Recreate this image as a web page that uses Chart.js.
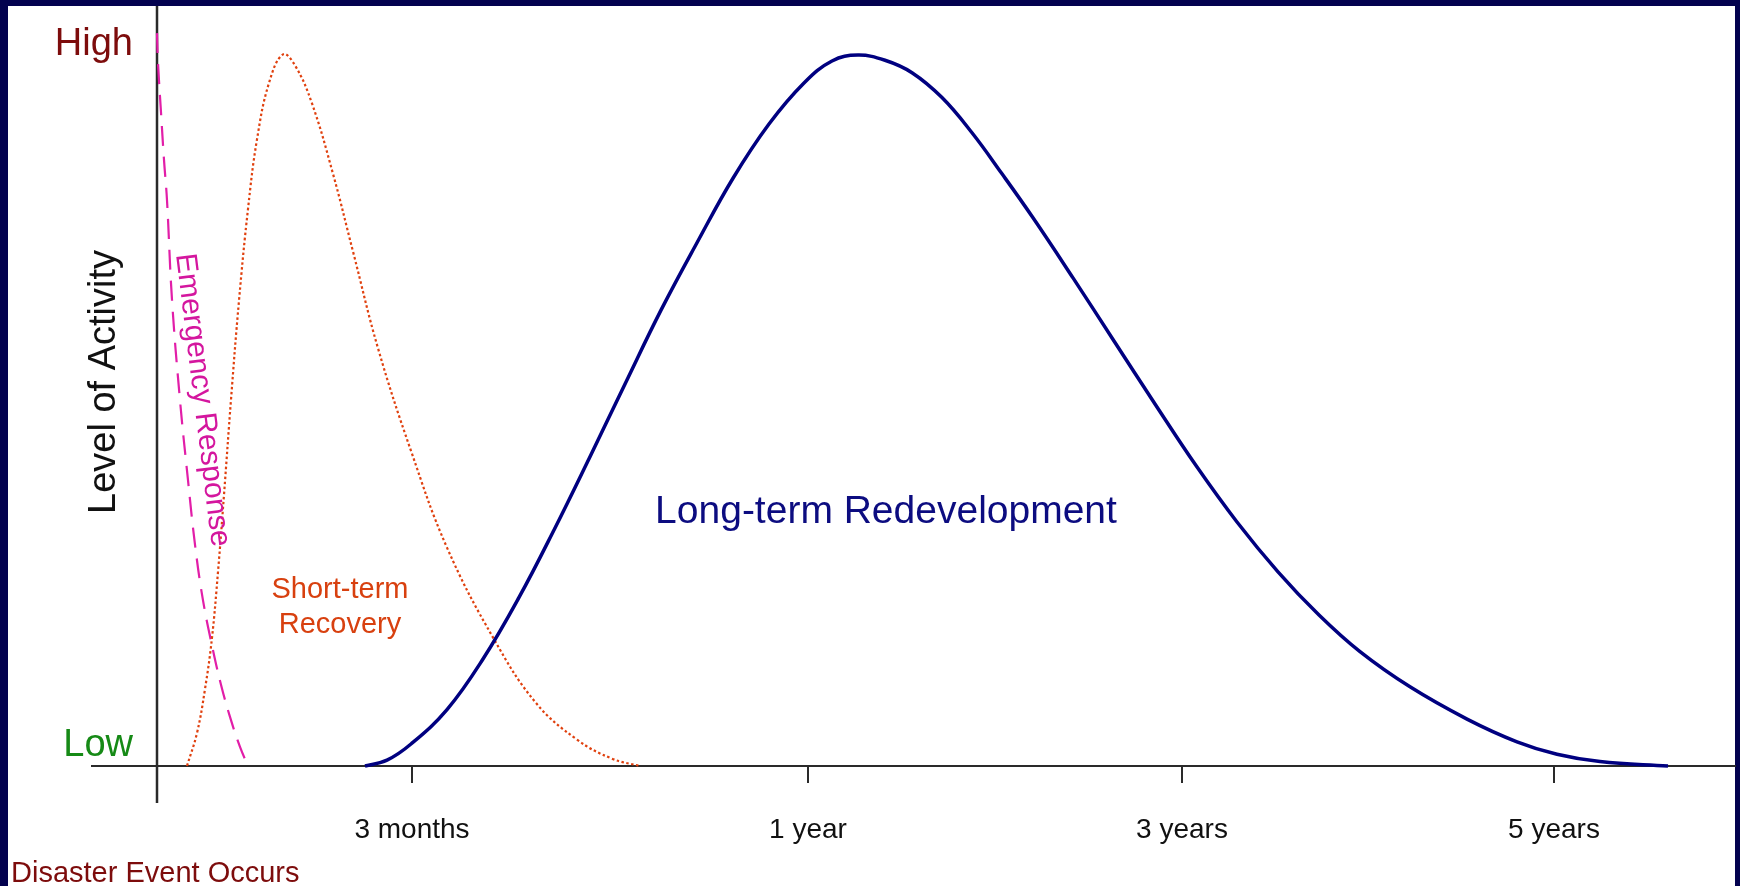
<!DOCTYPE html>
<html>
<head>
<meta charset="utf-8">
<script src="https://cdn.jsdelivr.net/npm/chart.js@4.4.1/dist/chart.umd.min.js"></script>
<style>
  html, body { margin: 0; padding: 0; background: #03024f; overflow: hidden; }
  #panel { position: absolute; left: 8px; top: 6px; width: 1727px; height: 880px; background: #fff; }
  #chart { position: absolute; left: 0; top: 0; }
</style>
</head>
<body>
<div id="panel"></div>
<canvas id="chart" width="1740" height="886"></canvas>
<script>
// timeline units (y axis = 0), activity units (axis = 0, high = 100)
const tickPos = [25.5, 65.1, 102.5, 139.7];
const tickLabels = ['3 months', '1 year', '3 years', '5 years'];

const emergencyX = [0, 0.1, 0.4, 0.7, 1.0, 1.5, 2.3, 3.1, 3.8, 4.6, 5.6, 6.4, 7.3, 8.3, 9.1];
const emergencyY = [100, 95.9, 89.2, 82.7, 77.2, 63.6, 49.9, 39.0, 30.2, 22.6, 15.8, 11.1, 6.7, 2.6, 0];

const shortX = [3.0, 4.0, 4.8, 5.5, 6.1, 6.7, 7.4, 8.2, 9.1, 10.0, 11.2, 12.6, 13.8, 15.5, 17.6, 19.6, 22.1, 25.4, 29.0, 33.7, 37.9, 42.0, 45.5, 48.3];
const shortY = [0, 4.5, 10.5, 17.5, 26.5, 37.0, 50.0, 63.5, 76.0, 85.5, 93.2, 97.1, 95.6, 90.4, 80.8, 70.2, 57.0, 43.0, 29.8, 17.3, 8.6, 3.6, 1.0, 0];

const longX = [20.8, 23.0, 25.4, 29.0, 32.6, 36.2, 39.7, 43.3, 46.9, 50.4, 54.0, 57.6, 61.2, 64.7, 67.5, 70.1, 72.8, 75.5, 78.5, 81.5, 84.5, 87.6, 91.6, 95.7, 99.8, 103.9, 108.0, 112.1, 116.2, 120.3, 125.3, 131.0, 136.0, 140.0, 144.3, 151.1];
const longY = [0, 0.8, 3.0, 7.7, 14.6, 23.0, 32.2, 42.2, 52.4, 62.2, 71.4, 80.2, 87.6, 93.2, 96.2, 97.0, 96.3, 94.6, 91.2, 86.4, 80.8, 74.8, 66.6, 58.0, 49.4, 41.0, 33.3, 26.5, 20.6, 15.6, 10.8, 6.4, 3.3, 1.6, 0.6, 0];

const FONT = '"Liberation Sans", Arial, sans-serif';

function pts(xs, ys) {
    return xs.map((x, i) => ({ x: x, y: ys[i] }));
}

// y axis line and the text labels
const overlay = {
    id: 'overlay',
    beforeDatasetsDraw(chart) {
        const ctx = chart.ctx;
        const px = chart.scales.x.getPixelForValue(0);
        ctx.save();
        ctx.strokeStyle = '#2a2a2a';
        ctx.lineWidth = 2.5;
        ctx.beginPath();
        ctx.moveTo(px, chart.chartArea.top);
        ctx.lineTo(px, chart.chartArea.bottom + 37);
        ctx.stroke();
        ctx.restore();
    },
    afterDraw(chart) {
        const ctx = chart.ctx;
        ctx.save();
        ctx.textBaseline = 'alphabetic';

        ctx.font = '38px ' + FONT;
        ctx.textAlign = 'right';
        ctx.fillStyle = '#7d0c0c';
        ctx.fillText('High', 133, 55);
        ctx.fillStyle = '#168a16';
        ctx.fillText('Low', 133, 756);

        ctx.font = '29px ' + FONT;
        ctx.textAlign = 'left';
        ctx.fillStyle = '#7d0c0c';
        ctx.fillText('Disaster Event Occurs', 11, 882);

        ctx.save();
        ctx.translate(115, 382);
        ctx.rotate(-Math.PI / 2);
        ctx.font = '38px ' + FONT;
        ctx.textAlign = 'center';
        ctx.fillStyle = '#111';
        ctx.fillText('Level of Activity', 0, 0);
        ctx.restore();

        ctx.save();
        ctx.translate(194, 401);
        ctx.rotate(83 * Math.PI / 180);
        ctx.font = '30px ' + FONT;
        ctx.textAlign = 'center';
        ctx.fillStyle = '#d4169e';
        ctx.fillText('Emergency Response', 0, 0);
        ctx.restore();

        ctx.font = '29px ' + FONT;
        ctx.textAlign = 'center';
        ctx.fillStyle = '#d8400f';
        ctx.fillText('Short-term', 340, 598);
        ctx.fillText('Recovery', 340, 633);

        ctx.font = '39px ' + FONT;
        ctx.fillStyle = '#0c0c80';
        ctx.fillText('Long-term Redevelopment', 886, 523);
        ctx.restore();
    }
};

new Chart(document.getElementById('chart'), {
    type: 'line',
    data: {
        datasets: [{
            label: 'Long-term Redevelopment',
            data: pts(longX, longY),
            borderColor: '#000080',
            borderWidth: 3.5
        }, {
            label: 'Short-term Recovery',
            data: pts(shortX, shortY),
            borderColor: '#e0400e',
            borderWidth: 2.2,
            borderDash: [2.5, 2.5]
        }, {
            label: 'Emergency Response',
            data: pts(emergencyX, emergencyY),
            borderColor: '#e21ea8',
            borderWidth: 2.2,
            borderDash: [20, 11]
        }]
    },
    options: {
        responsive: false,
        animation: false,
        layout: { padding: { left: 92, right: 5, top: 6, bottom: 0 } },
        elements: {
            point: { radius: 0 },
            line: { tension: 0.4, fill: false }
        },
        datasets: { line: { clip: false } },
        plugins: {
            legend: { display: false },
            tooltip: { enabled: false }
        },
        scales: {
            x: {
                type: 'linear',
                min: -6.5,
                max: 157.8,
                afterBuildTicks: s => { s.ticks = tickPos.map(v => ({ value: v })); },
                afterFit: s => { s.height = 120; },
                ticks: {
                    callback: (v, i) => tickLabels[i],
                    autoSkip: false,
                    maxRotation: 0,
                    padding: 30,
                    color: '#111',
                    font: { size: 28, family: FONT }
                },
                grid: { drawOnChartArea: false, drawTicks: true, tickLength: 17, color: '#2a2a2a', lineWidth: 2 },
                border: { display: true, color: '#2a2a2a', width: 2 }
            },
            y: {
                display: false,
                min: 0,
                max: 103.7
            }
        }
    },
    plugins: [overlay]
});
</script>
</body>
</html>
